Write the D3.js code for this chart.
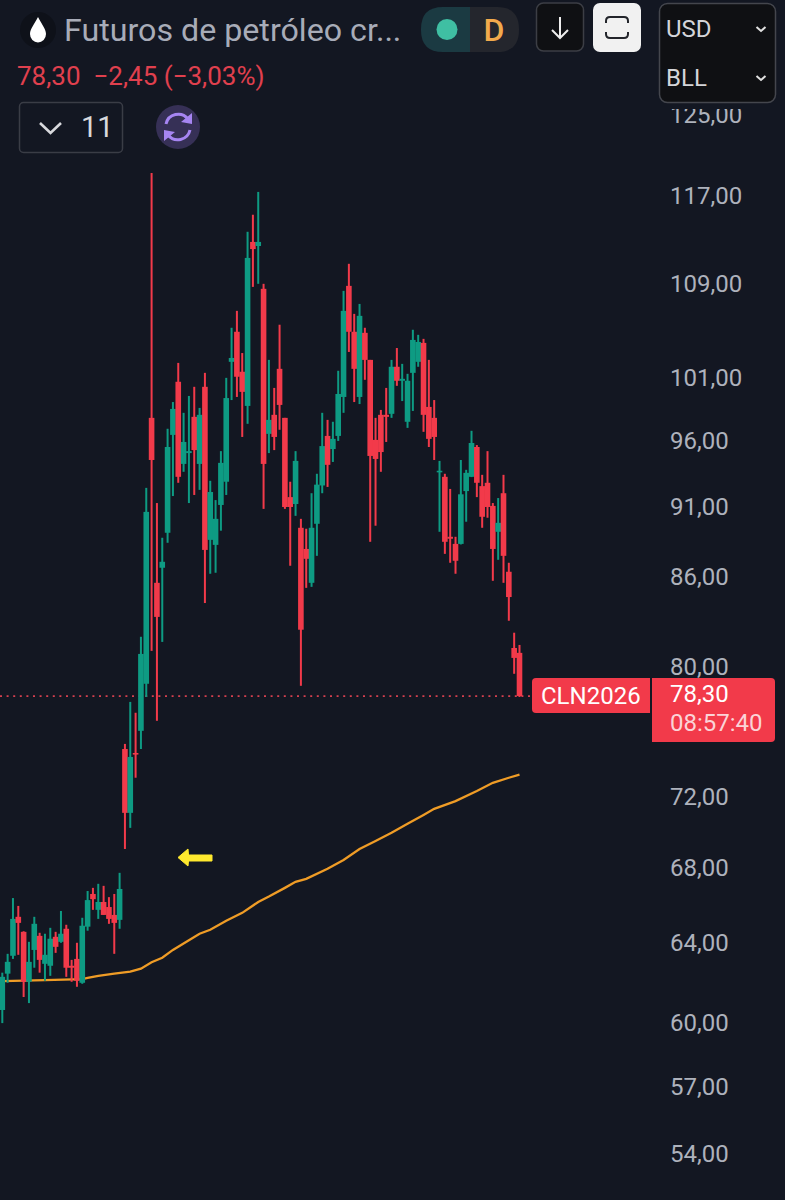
<!DOCTYPE html>
<html><head><meta charset="utf-8">
<script src="https://cdn.jsdelivr.net/npm/d3@7/dist/d3.min.js"></script>
<style>html,body{margin:0;padding:0;background:#131722}svg{display:block}text{font-family:Roboto,sans-serif}</style>
</head><body><div id="c"></div>
<script>
const opens=[60.76,62.57,63.48,65.51,64.72,62.16,63.78,64.51,63.07,62.97,64.46,64.20,64.88,62.97,63.32,62.11,64.99,66.73,65.88,66.30,66.03,65.61,65.35,75.02,71.25,74.78,76.13,79.08,98.03,85.80,86.85,89.34,96.69,100.93,94.45,95.28,98.11,94.45,100.52,88.83,88.47,91.37,93.10,102.57,105.09,101.75,98.98,113.00,112.63,108.80,96.77,98.27,101.99,98.03,91.95,91.44,89.70,88.18,85.80,89.99,92.82,96.61,95.59,96.61,99.70,109.06,105.09,99.70,105.00,102.73,96.30,98.27,98.27,98.35,102.16,101.01,97.72,101.66,102.57,104.15,98.90,98.03,93.85,93.47,89.05,88.54,88.54,92.40,93.47,95.75,92.77,93.02,91.30,89.41,92.24,86.57,81.40,81.08];
const highs=[62.62,63.58,66.51,66.09,64.75,64.20,65.51,64.67,64.62,64.93,64.72,65.82,65.09,63.27,64.15,65.46,66.89,67.06,67.28,67.17,66.56,66.73,67.88,75.33,77.93,77.25,82.14,92.64,119.47,91.51,88.98,97.17,99.29,102.48,98.43,99.78,100.52,98.82,101.66,93.17,91.73,95.43,101.25,105.43,106.88,103.30,113.93,115.51,117.66,109.24,102.73,100.43,105.69,98.03,93.10,95.43,90.35,89.63,92.24,93.70,98.43,97.87,97.72,101.83,108.62,111.02,106.62,107.48,105.43,102.73,98.03,98.66,100.43,102.73,103.72,102.40,101.58,105.26,104.83,104.49,102.73,99.45,94.68,93.70,92.56,89.05,94.75,94.00,97.01,95.90,93.62,95.43,91.51,91.88,93.62,87.20,82.41,81.60];
const lows=[60.12,62.11,63.32,63.53,61.40,61.10,62.87,62.62,62.21,62.46,63.63,64.15,62.41,62.16,61.91,62.06,64.78,65.88,65.40,65.61,65.14,63.58,64.88,69.20,70.39,73.30,75.02,78.24,81.21,76.75,81.80,88.62,92.03,93.02,93.85,91.51,92.11,92.49,84.41,86.43,86.50,89.49,92.11,99.45,99.70,96.53,97.56,108.97,109.24,91.08,95.28,95.51,97.09,91.08,86.99,90.57,78.95,85.45,85.52,87.69,92.24,92.71,94.60,96.22,98.43,103.39,99.29,99.13,101.09,88.69,89.85,93.85,96.14,98.03,100.60,99.37,97.24,98.58,102.16,96.93,95.75,94.75,89.41,87.83,87.20,86.43,88.50,90.14,93.45,91.95,89.70,90.43,85.94,87.41,85.80,83.21,79.72,78.24];
const closes=[62.41,63.17,65.40,65.19,62.16,63.17,65.14,63.27,63.53,64.36,63.94,64.62,62.87,62.87,62.21,65.04,66.40,66.45,66.30,65.61,65.40,65.19,67.00,71.25,74.54,74.69,81.01,90.86,94.75,83.47,87.27,95.75,98.74,93.47,96.14,95.43,95.51,98.27,88.11,92.33,90.35,94.53,99.61,102.89,101.34,100.11,111.55,112.35,113.00,94.45,97.87,96.53,99.06,91.22,91.22,94.68,82.61,87.48,89.70,92.88,95.82,94.38,96.38,99.94,106.88,105.09,101.99,106.45,102.73,95.06,94.83,95.36,98.11,102.16,101.01,101.17,101.01,104.40,104.23,98.27,96.38,96.53,93.93,88.69,88.91,87.34,92.16,93.77,96.06,93.02,90.50,91.22,88.18,90.06,87.69,84.82,80.75,78.30];
const maIndex=[0,8,15,16,18,21,24,26,28,30,32,35,37,39,42,45,48,50,53,55,57,61,64,67,70,73,76,79,81,85,89,92,95,97];
const maValues=[62.19,62.24,62.29,62.36,62.46,62.57,62.67,62.82,63.15,63.38,63.78,64.28,64.62,64.83,65.30,65.72,66.30,66.59,67.06,67.39,67.55,68.10,68.59,69.20,69.65,70.11,70.62,71.13,71.48,71.93,72.52,73.00,73.30,73.48];
const tickValues=[125,117,109,101,96,91,86,80,72,68,64,60,57,54];
const tickLabels=["125,00","117,00","109,00","101,00","96,00","91,00","86,00","80,00","72,00","68,00","64,00","60,00","57,00","54,00"];
const lastPrice=78.30;
const title="Futuros de petróleo cr...";
const quote="78,30  −2,45 (−3,03%)";

const W=785,H=1200,UP="#0e9b83",DOWN="#f23a4a",BG="#131722";
const svg=d3.select("#c").append("svg").attr("width",W).attr("height",H).attr("viewBox",`0 0 ${W} ${H}`);
svg.append("rect").attr("width",W).attr("height",H).attr("fill",BG);
const x=d3.scaleLinear().domain([0,opens.length-1]).range([2.3,519.5]);
const y=d3.scaleLog().domain([125,54]).range([117,1156]);

// axis labels
const axisG=svg.append("g");
axisG.selectAll("text").data(tickValues).join("text")
  .attr("x",670).attr("y",d=>y(d)-2.5).attr("dominant-baseline","central")
  .attr("font-size",24).attr("fill","#aeb2bc").text((d,i)=>tickLabels[i]);
// strip that cuts off the top of the highest label, as the toolbar does
svg.append("rect").attr("x",655).attr("y",100).attr("width",125).attr("height",9).attr("fill",BG);

// last-price dotted line
svg.append("line").attr("x1",0).attr("x2",532).attr("y1",y(lastPrice)).attr("y2",y(lastPrice))
  .attr("stroke","#d5404f").attr("stroke-width",1.7).attr("stroke-dasharray","2 4.6");

// moving average
svg.append("path").datum(maIndex.map((d,i)=>[d,maValues[i]]))
  .attr("d",d3.line().x(d=>x(d[0])).y(d=>y(d[1])))
  .attr("fill","none").attr("stroke","#ef9c26").attr("stroke-width",2.3);

// candles
const candles=svg.append("g").selectAll("g").data(opens.map((o,i)=>({i,o,h:highs[i],l:lows[i],c:closes[i]}))).join("g")
  .attr("fill",d=>d.c>=d.o?UP:DOWN);
candles.append("rect").attr("x",d=>x(d.i)-1).attr("width",2).attr("y",d=>y(d.h)).attr("height",d=>y(d.l)-y(d.h));
candles.append("rect").attr("x",d=>x(d.i)-2.8).attr("width",5.6)
  .attr("y",d=>y(Math.max(d.o,d.c))).attr("height",d=>Math.max(1.6,y(Math.min(d.o,d.c))-y(Math.max(d.o,d.c))));

// yellow arrow annotation
svg.append("path").attr("d","M178 857.5 L188 849 L188.5 855 L212 855 L212 861 L188.5 861 L188 866 Z")
  .attr("fill","#ffe92e").attr("stroke","#ffe92e").attr("stroke-width",1).attr("stroke-linejoin","round");

// price labels
const rr=(x0,y0,x1,y1,tl,tr,br,bl)=>`M${x0+tl} ${y0}H${x1-tr}Q${x1} ${y0} ${x1} ${y0+tr}V${y1-br}Q${x1} ${y1} ${x1-br} ${y1}H${x0+bl}Q${x0} ${y1} ${x0} ${y1-bl}V${y0+tl}Q${x0} ${y0} ${x0+tl} ${y0}Z`;
svg.append("path").attr("d",rr(532,678,650,713,4,0,0,4)).attr("fill",DOWN);
svg.append("path").attr("d",rr(652,678,775,742,0,4,4,0)).attr("fill",DOWN);
svg.append("text").attr("x",541).attr("y",696).attr("dominant-baseline","central").attr("font-size",24).attr("fill","#fff").text("CLN2026");
svg.append("text").attr("x",670).attr("y",693.5).attr("dominant-baseline","central").attr("font-size",24).attr("fill","#fff").text("78,30");
svg.append("text").attr("x",670).attr("y",723).attr("dominant-baseline","central").attr("font-size",24).attr("fill","#fbd3d7").text("08:57:40");

// header
const hd=svg.append("g");
hd.append("circle").attr("cx",38).attr("cy",30).attr("r",18).attr("fill","#0e1119");
hd.append("path").attr("d","M38 17 C41 23 46 29 46 34 A8 8.5 0 0 1 30 34 C30 29 35 23 38 17 Z").attr("fill","#fff");
hd.append("text").attr("x",64).attr("y",29.5).attr("dominant-baseline","central").attr("font-size",32.2).attr("fill","#a8acb8").text(title);
hd.append("text").attr("x",17).attr("y",75.5).attr("dominant-baseline","central").attr("font-size",26).attr("fill","#e0404e").style("white-space","pre").text(quote);
// status pill
hd.append("path").attr("d",rr(421,7,470,52,22,0,0,22)).attr("fill","#1b3a42");
hd.append("path").attr("d",rr(470,7,519,52,0,22,22,0)).attr("fill","#24262d");
hd.append("circle").attr("cx",447).attr("cy",29.5).attr("r",10.5).attr("fill","#3fbfa3");
hd.append("text").attr("x",494).attr("y",30).attr("text-anchor","middle").attr("dominant-baseline","central").attr("font-size",32).attr("font-weight",500).attr("fill","#f2aa4c").text("D");
// arrow button
hd.append("rect").attr("x",536.5).attr("y",3).attr("width",47).attr("height",48).attr("rx",7).attr("fill","#0f1013").attr("stroke","#3c3e45").attr("stroke-width",1.5);
hd.append("path").attr("d","M560 17V38M552 30L560 38L568 30").attr("fill","none").attr("stroke","#eee").attr("stroke-width",2);
// snapshot button
hd.append("rect").attr("x",593).attr("y",3).attr("width",48).attr("height",49).attr("rx",7).attr("fill","#f1f1f1");
hd.append("path").attr("d","M606 23V21Q606 17 610 17H624Q628 17 628 21V23M606 32V34Q606 38 610 38H624Q628 38 628 34V32").attr("fill","none").attr("stroke","#23252b").attr("stroke-width",2);
// currency / unit box
hd.append("rect").attr("x",659.5).attr("y",3.5).attr("width",116).attr("height",99).attr("rx",8).attr("fill","#0f1013").attr("stroke","#44464d").attr("stroke-width",1.5);
hd.append("text").attr("x",666).attr("y",29).attr("dominant-baseline","central").attr("font-size",24).attr("fill","#d4d5d9").text("USD");
hd.append("text").attr("x",666).attr("y",78).attr("dominant-baseline","central").attr("font-size",24).attr("fill","#d4d5d9").text("BLL");
hd.append("path").attr("d","M756.5 27L761 31L765.5 27M756.5 76L761 80L765.5 76").attr("fill","none").attr("stroke","#e0e0e0").attr("stroke-width",2);
// collapse box
hd.append("rect").attr("x",19.5).attr("y",102.5).attr("width",103).attr("height",50).attr("rx",4).attr("fill",BG).attr("stroke","#3a3d46").attr("stroke-width",1.5);
hd.append("path").attr("d","M40 123L50.5 133L61 123").attr("fill","none").attr("stroke","#d8d9dd").attr("stroke-width",2.6);
hd.append("text").attr("x",81).attr("y",127).attr("dominant-baseline","central").attr("font-size",29).attr("fill","#d8d9dd").text("11");
// purple sync icon
hd.append("circle").attr("cx",178).attr("cy",127).attr("r",22).attr("fill","#363056");
hd.append("path").attr("d","M166 124A12.5 12.5 0 0 1 188 119M190 130A12.5 12.5 0 0 1 168 135").attr("fill","none").attr("stroke","#a685f2").attr("stroke-width",3);
hd.append("path").attr("d","M192 113L192 124L181 122ZM164 141L164 130L175 132Z").attr("fill","#a685f2");
</script></body></html>
